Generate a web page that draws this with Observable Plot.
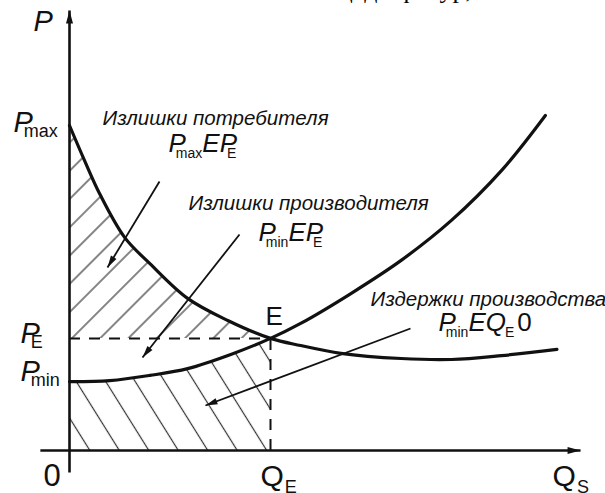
<!DOCTYPE html>
<html>
<head>
<meta charset="utf-8">
<script src="https://cdn.jsdelivr.net/npm/d3@7"></script>
<script src="https://cdn.jsdelivr.net/npm/@observablehq/plot@0.6"></script>
<style>
  html, body { margin: 0; padding: 0; background: #fff; overflow: hidden; }
  #wrap { position: relative; width: 605px; height: 493px; overflow: hidden; }
  #head { position: absolute; z-index: 2; top: -23px; left: 0; font: 26px "Liberation Serif", serif; line-height: 26px; white-space: nowrap; color: #000; }
  #chart { position: absolute; z-index: 1; top: 0; left: 0; }
</style>
</head>
<body>
<div id="wrap">
  <div id="chart"></div>
  <div id="head">Укажите экономический смысл площади фигур, обозначенных</div>
</div>
<script>
// Equilibrium and reference prices / quantity (arbitrary units)
const QE = 4;
const PE = 3.45;
const Pmin = 2.12;
const Pmax = 10;

// Demand curve D(Q)
const demandQ = [0, 0.3, 0.6, 1.1, 1.6, 2.35, 3.15, 4, 4.6, 5.4, 6.6, 7.6, 8.6, 9.7];
const demandP = [10, 8.92, 7.9, 6.55, 5.75, 4.68, 4.0, 3.45, 3.23, 2.99, 2.83, 2.8, 2.92, 3.11];

// Supply curve S(Q)
const supplyQ = [0, 0.8, 1.6, 2.35, 3.25, 4, 4.6, 5.6, 6.6, 7.6, 8.6, 9.47];
const supplyP = [2.12, 2.15, 2.31, 2.52, 2.98, 3.45, 3.91, 4.83, 5.85, 7.08, 8.62, 10.31];

// Axis extents
const qAxis = [-0.58, 10.17];
const pAxis = [-0.68, 13.54];

// Axis labels
const axisTexts = ["P", "P_{max}", "P_{E}", "P_{min}"];
const plainTexts = ["0", "Q_{E}", "Q_{S}", "E"];

// Area captions and their formulas
const captions = ["Излишки потребителя", "Излишки производителя", "Издержки производства"];
const formulas = ["P_{max}EP_{E}", "P_{min}EP_{E}", "P_{min}EQ_{E}~{0}"];

const demand = demandQ.map((q, i) => ({q, p: demandP[i]}));
const supply = supplyQ.map((q, i) => ({q, p: supplyP[i]}));

// Annotation layout (data units, offsets in px)
const axisLabelLayout = [
  {q: 0, p: pAxis[1], dx: -36, dy: 21},
  {q: 0, p: Pmax, dx: -56, dy: 6},
  {q: 0, p: PE, dx: -49, dy: 5},
  {q: 0, p: Pmin, dx: -49, dy: -1}
];
const plainLabelLayout = [
  {q: 0, p: 0, dx: -26, dy: 35, size: 31},
  {q: QE, p: 0, dx: -10, dy: 35, size: 30},
  {q: qAxis[1], p: 0, dx: -28, dy: 35, size: 30},
  {q: QE, p: PE, dx: -5, dy: -13, size: 26}
];
const captionLayout = [
  {q: 0.657, p: 10.03},
  {q: 2.368, p: 7.415},
  {q: 5.990, p: 4.46}
];
const formulaLayout = [
  {q: 1.970, p: 9.2},
  {q: 3.761, p: 6.46},
  {q: 7.343, p: 3.69}
];
const pointerLayout = [
  {q1: 1.791, p1: 8.277, q2: 0.756, p2: 5.631},
  {q1: 3.383, p1: 6.646, q2: 1.453, p2: 2.862},
  {q1: 6.786, p1: 3.754, q2: 2.706, p2: 1.385}
];

const axisArrows = [
  {q1: 0, p1: pAxis[0], q2: 0, p2: pAxis[1], w: 2.6, head: "headAxis"},
  {q1: qAxis[0], p1: 0, q2: qAxis[1], p2: 0, w: 2.6, head: "headAxis"}
];
const pointers = pointerLayout.map(d => ({...d, w: 1.8, head: "headNote"}));

const font = "Liberation Sans, Arial, sans-serif";
const ink = "#111";

const svg = Plot.plot({
  width: 605,
  height: 493,
  margin: 0,
  style: {background: "#fff", color: ink},
  x: {domain: [-69 / 50.25, 536 / 50.25], range: [0, 605], axis: null},
  y: {domain: [-43 / 32.5, 450 / 32.5], range: [493, 0], axis: null},
  marks: [
    // consumer surplus: between demand and P_E, from 0 to Q_E
    Plot.areaY(demand.filter(d => d.q <= QE), {x: "q", y1: PE, y2: "p", curve: "catmull-rom", fill: "url(#hatchUp)"}),
    // production costs: below supply, from 0 to Q_E
    Plot.areaY(supply.filter(d => d.q <= QE), {x: "q", y1: 0, y2: "p", curve: "catmull-rom", fill: "url(#hatchDown)"}),
    // equilibrium guides
    Plot.ruleY([PE], {x1: 0, x2: QE, stroke: ink, strokeWidth: 2, strokeDasharray: "11,9"}),
    Plot.ruleX([QE], {y1: 0, y2: PE, stroke: ink, strokeWidth: 2, strokeDasharray: "11,9"}),
    // curves
    Plot.line(demand, {x: "q", y: "p", curve: "catmull-rom", stroke: ink, strokeWidth: 3.2}),
    Plot.line(supply, {x: "q", y: "p", curve: "catmull-rom", stroke: ink, strokeWidth: 3.2}),
    // axes and pointers
    Plot.link([...axisArrows, ...pointers], {x1: "q1", y1: "p1", x2: "q2", y2: "p2", stroke: ink, strokeWidth: "w", ariaDescription: "arrows"}),
    // labels
    Plot.text(axisTexts, {x: (d, i) => axisLabelLayout[i].q, y: (d, i) => axisLabelLayout[i].p,
      text: d => d, textAnchor: "start", lineAnchor: "bottom",
      fontFamily: font, fontSize: 29, fontStyle: "italic", fill: ink, ariaDescription: "axisLabels"}),
    Plot.text(plainTexts, {x: (d, i) => plainLabelLayout[i].q, y: (d, i) => plainLabelLayout[i].p,
      text: d => d, textAnchor: "start", lineAnchor: "bottom",
      fontFamily: font, fontSize: (d, i) => plainLabelLayout[i].size, fill: ink, ariaDescription: "plainLabels"}),
    Plot.text(captions, {x: (d, i) => captionLayout[i].q, y: (d, i) => captionLayout[i].p,
      text: d => d, textAnchor: "start", lineAnchor: "bottom",
      fontFamily: font, fontSize: 20.5, fontStyle: "italic", fill: ink}),
    Plot.text(formulas, {x: (d, i) => formulaLayout[i].q, y: (d, i) => formulaLayout[i].p,
      text: d => d, textAnchor: "start", lineAnchor: "bottom",
      fontFamily: font, fontSize: 26, fontStyle: "italic", fill: ink, ariaDescription: "formulas"})
  ]
});

const root = d3.select(svg);
const defs = root.insert("defs", ":first-child");

// hatching patterns
function hatch(id, angle, gap, width) {
  defs.append("pattern")
    .attr("id", id)
    .attr("patternUnits", "userSpaceOnUse")
    .attr("width", gap).attr("height", gap)
    .attr("patternTransform", `rotate(${angle})`)
    .append("line")
    .attr("x1", gap / 2).attr("y1", -1).attr("x2", gap / 2).attr("y2", gap + 1)
    .attr("stroke", "#333").attr("stroke-width", width);
}
hatch("hatchUp", 45, 20, 1.2);
hatch("hatchDown", -32, 25, 1.2);

// filled arrow heads
function head(id, len, half) {
  defs.append("marker")
    .attr("id", id)
    .attr("markerUnits", "userSpaceOnUse")
    .attr("viewBox", `${-len - 1} ${-half - 1} ${len + 2} ${2 * half + 2}`)
    .attr("markerWidth", len + 2).attr("markerHeight", 2 * half + 2)
    .attr("refX", 0).attr("refY", 0)
    .attr("orient", "auto")
    .append("path")
    .attr("d", `M0,0L${-len},${-half}L${-len},${half}Z`)
    .attr("fill", ink);
}
head("headAxis", 13, 3.5);
head("headNote", 12, 3.2);

const arrowData = [...axisArrows, ...pointers];
root.select('g[aria-description="arrows"]').selectAll("path")
  .attr("marker-end", (d, i) => `url(#${arrowData[i].head})`);

// per-label offsets
function offset(selector, layout) {
  root.select(selector).selectAll("text")
    .attr("transform", function (d, i) {
      const t = d3.select(this).attr("transform") || "";
      return `${t} translate(${layout[i].dx},${layout[i].dy})`;
    });
}
offset('g[aria-description="axisLabels"]', axisLabelLayout);
offset('g[aria-description="plainLabels"]', plainLabelLayout);

// subscripts: "_{...}" lowered and upright (tucked under a preceding P), "~{...}" upright
function subscripts(selector, subSize, tuckDx, plainDx, subDy) {
  root.select(selector).selectAll("text").each(function () {
    const t = d3.select(this);
    const s = t.text();
    t.text(null);
    let shift = 0;
    let prev = "";
    for (const part of s.split(/(_\{[^}]*\}|~\{[^}]*\})/).filter(Boolean)) {
      if (part.startsWith("_{")) {
        t.append("tspan").attr("font-size", subSize).attr("font-style", "normal")
          .attr("dx", prev === "P" ? tuckDx : plainDx).attr("dy", subDy).text(part.slice(2, -1));
        shift = subDy;
        prev = "_";
      } else {
        const ts = t.append("tspan");
        if (part.startsWith("~{")) ts.attr("font-style", "normal").attr("dx", 3).text(part.slice(2, -1));
        else ts.text(part);
        if (shift) { ts.attr("dy", -shift); shift = 0; }
        prev = part.slice(-1);
      }
    }
  });
}
subscripts('g[aria-description="axisLabels"]', 18, -9, 0, 5);
subscripts('g[aria-description="plainLabels"]', 18, -9, 1, 7);
subscripts('g[aria-description="formulas"]', 14, -10, -1, 6);

document.getElementById("chart").appendChild(svg);

// the heading line sits mostly above the page edge; align "ф" of "фигур"
(function () {
  const head = document.getElementById("head");
  const ctx = document.createElement("canvas").getContext("2d");
  ctx.font = '26px "Liberation Serif"';
  const txt = head.textContent;
  const w = ctx.measureText(txt.slice(0, txt.indexOf("фигур"))).width;
  head.style.left = (398 - w) + "px";
})();
</script>
</body>
</html>
